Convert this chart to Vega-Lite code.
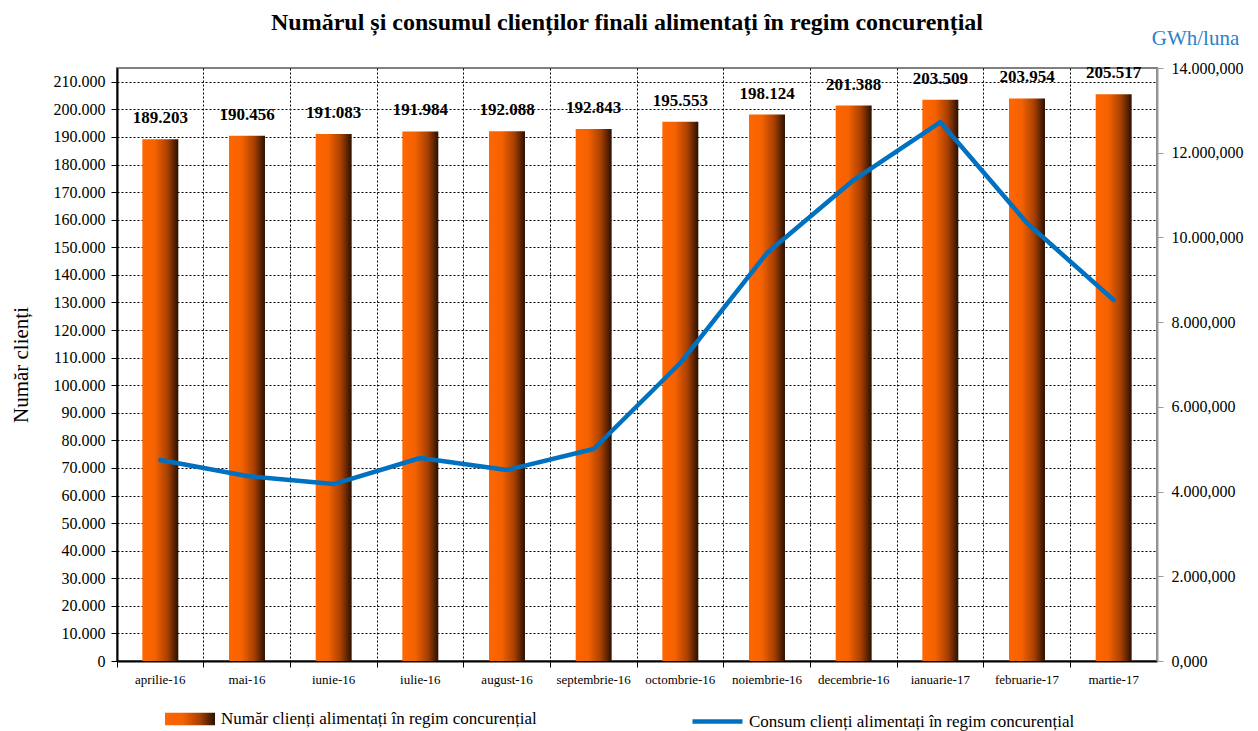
{
  "$schema": "https://vega.github.io/schema/vega-lite/v6.json",
  "width": 1040,
  "height": 593,
  "autosize": "none",
  "padding": {"left": 117, "top": 68, "right": 101, "bottom": 70},
  "background": "white",
  "config": {
    "view": {"stroke": "#808080", "strokeWidth": 2},
    "font": "Liberation Serif"
  },
  "title": {
    "text": "Numărul și consumul clienților finali alimentați în regim concurențial",
    "font": "Liberation Serif",
    "fontSize": 24,
    "fontWeight": "bold",
    "color": "#000",
    "anchor": "middle",
    "frame": "group",
    "dx": -10,
    "offset": -8
  },
  "data": {
    "values": [
      {"luna": "aprilie-16", "clienti": 189203, "consum": 4745},
      {"luna": "mai-16", "clienti": 190456, "consum": 4367},
      {"luna": "iunie-16", "clienti": 191083, "consum": 4178},
      {"luna": "iulie-16", "clienti": 191984, "consum": 4792},
      {"luna": "august-16", "clienti": 192088, "consum": 4509},
      {"luna": "septembrie-16", "clienti": 192843, "consum": 5005},
      {"luna": "octombrie-16", "clienti": 195553, "consum": 7035},
      {"luna": "noiembrie-16", "clienti": 198124, "consum": 9632},
      {"luna": "decembrie-16", "clienti": 201388, "consum": 11355},
      {"luna": "ianuarie-17", "clienti": 203509, "consum": 12724},
      {"luna": "februarie-17", "clienti": 203954, "consum": 10340},
      {"luna": "martie-17", "clienti": 205517, "consum": 8522}
    ]
  },
  "transform": [
    {"calculate": "replace(format(datum.clienti, ','), ',', '.')", "as": "eticheta"}
  ],
  "encoding": {
    "x": {
      "field": "luna",
      "type": "nominal",
      "sort": null,
      "scale": {"paddingInner": 0, "paddingOuter": 0},
      "axis": {
        "title": null,
        "labelAngle": 0,
        "labelFont": "Liberation Serif",
        "labelFontSize": 13,
        "labelColor": "#000",
        "labelPadding": 6,
        "bandPosition": 0,
        "grid": true,
        "gridColor": "#000",
        "gridDash": [2, 2],
        "gridWidth": 1,
        "ticks": true,
        "tickColor": "#000",
        "tickSize": 6,
        "domainColor": "#000",
        "domainWidth": 2
      }
    }
  },
  "layer": [
    {
      "encoding": {
        "y": {
          "field": "clienti",
          "type": "quantitative",
          "scale": {"domain": [0, 215000], "nice": false},
          "axis": {
            "title": "Număr clienți",
            "titleFont": "Liberation Serif",
            "titleFontSize": 21,
            "titleFontWeight": "normal",
            "titleColor": "#000",
            "titlePadding": 22,
            "values": [0, 10000, 20000, 30000, 40000, 50000, 60000, 70000, 80000, 90000, 100000, 110000, 120000, 130000, 140000, 150000, 160000, 170000, 180000, 190000, 200000, 210000],
            "labelExpr": "replace(format(datum.value, ','), ',', '.')",
            "labelFont": "Liberation Serif",
            "labelFontSize": 16,
            "labelColor": "#000",
            "labelPadding": 6,
            "grid": true,
            "gridColor": "#000",
            "gridDash": [2, 2],
            "gridWidth": 1,
            "tickColor": "#000",
            "tickSize": 6,
            "domainColor": "#000",
            "domainWidth": 2
          }
        }
      },
      "layer": [
        {
          "mark": {
            "type": "bar",
            "width": {"band": 0.415},
            "fill": {
              "gradient": "linear",
              "x1": 0, "y1": 0, "x2": 1, "y2": 0,
              "stops": [
                {"offset": 0, "color": "#FF6600"},
                {"offset": 0.35, "color": "#F56200"},
                {"offset": 0.7, "color": "#A84000"},
                {"offset": 1, "color": "#2A1000"}
              ]
            }
          },
          "encoding": {
            "opacity": {
              "datum": "Număr clienți alimentați în regim concurențial",
              "type": "nominal",
              "scale": {"domain": ["Număr clienți alimentați în regim concurențial"], "range": [1]},
              "legend": {
                "title": null,
                "orient": "none",
                "legendX": 48,
                "legendY": 626,
                "labelFont": "Liberation Serif",
                "labelFontSize": 17,
                "labelColor": "#000",
                "labelOffset": 6,
                "labelLimit": 0,
                "symbolType": "M-1,-0.25H1V0.25H-1Z",
                "symbolSize": 2500,
                "symbolFillColor": "#FF6600",
                "symbolStrokeWidth": 0
              }
            }
          }
        },
        {
          "mark": {
            "type": "text",
            "font": "Liberation Serif",
            "fontSize": 17,
            "fontWeight": "bold",
            "color": "#000",
            "baseline": "middle",
            "dy": -21
          },
          "encoding": {
            "text": {"field": "eticheta", "type": "nominal"}
          }
        }
      ]
    },
    {
      "mark": {"type": "line", "strokeWidth": 4.5, "strokeCap": "round", "strokeJoin": "round"},
      "encoding": {
        "y": {
          "field": "consum",
          "type": "quantitative",
          "scale": {"domain": [0, 14000], "nice": false},
          "axis": {
            "orient": "right",
            "title": "GWh/luna",
            "titleFont": "Liberation Serif",
            "titleFontSize": 21,
            "titleFontWeight": "normal",
            "titleColor": "#2E7FC9",
            "titleAngle": 0,
            "titleAlign": "center",
            "titleBaseline": "middle",
            "titleX": 38,
            "titleY": -30,
            "values": [0, 2000, 4000, 6000, 8000, 10000, 12000, 14000],
            "labelExpr": "replace(format(datum.value, ','), ',', '.') + ',000'",
            "labelFont": "Liberation Serif",
            "labelFontSize": 16,
            "labelColor": "#000",
            "labelPadding": 8,
            "grid": false,
            "tickColor": "#999",
            "tickSize": 6,
            "domainColor": "#999",
            "domainWidth": 2
          }
        },
        "color": {
          "datum": "Consum clienți alimentați în regim concurențial",
          "type": "nominal",
          "scale": {
            "domain": ["Consum clienți alimentați în regim concurențial"],
            "range": ["#0070C0"]
          },
          "legend": {
            "title": null,
            "orient": "none",
            "legendX": 573,
            "legendY": 626,
            "labelFont": "Liberation Serif",
            "labelFontSize": 17,
            "labelColor": "#000",
            "labelOffset": 4,
            "labelLimit": 0,
            "symbolType": "stroke",
            "symbolSize": 2500,
            "symbolStrokeWidth": 4.5
          }
        }
      }
    }
  ],
  "resolve": {"scale": {"y": "independent"}, "axis": {"y": "independent"}}
}
